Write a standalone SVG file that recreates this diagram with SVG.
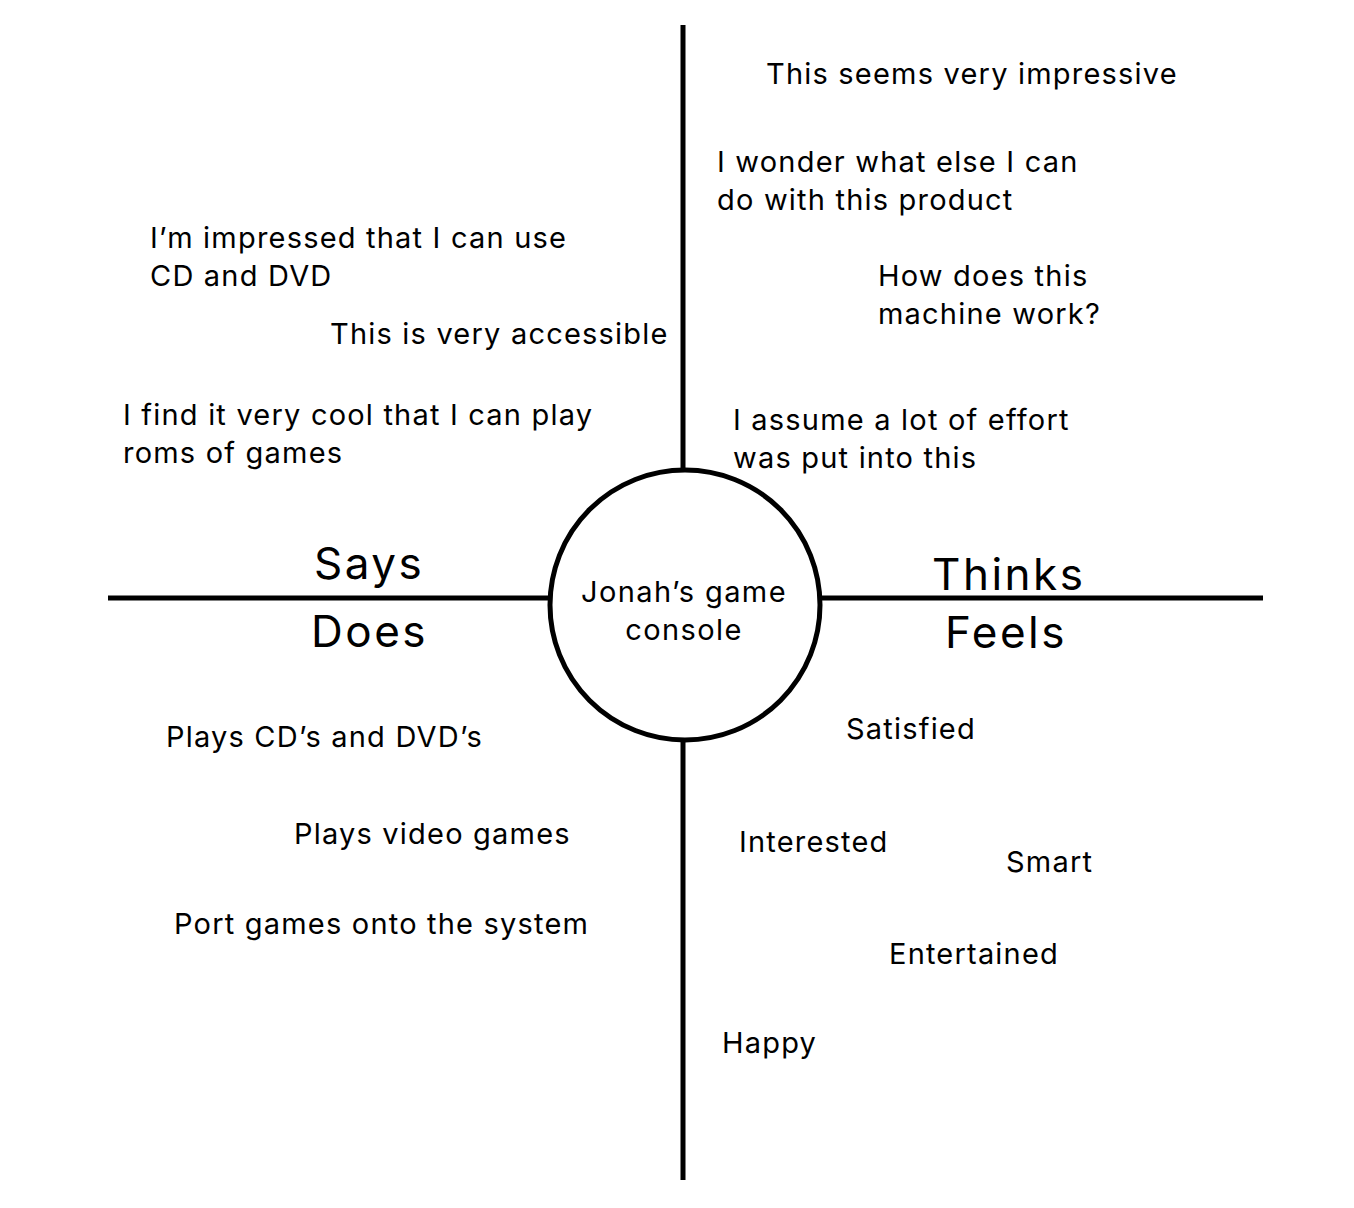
<svg xmlns="http://www.w3.org/2000/svg" width="1354" height="1208" viewBox="0 0 1354 1208">
<style>
.ln{stroke:#000;stroke-width:5;fill:none}
text{font-family:Inter,"Noto Sans","Liberation Sans",sans-serif;fill:#000}
.t{font-size:29px;letter-spacing:1.2px}
.b{font-size:44px;letter-spacing:2.5px}
.c{font-size:29px;letter-spacing:1.4px;text-anchor:middle}
</style>
<rect width="1354" height="1208" fill="#fff"/>
<g id="connectors">
<line class="ln" x1="683" y1="25" x2="683" y2="468"/>
<line class="ln" x1="683" y1="739" x2="683" y2="1180"/>
<line class="ln" x1="108" y1="598" x2="550" y2="598"/>
<line class="ln" x1="820" y1="598" x2="1263" y2="598"/>
</g>
<g id="center">
<circle class="ln" cx="685" cy="605" r="135"/>
<text class="c" x="684" y="602">Jonah’s game</text>
<text class="c" x="684" y="640">console</text>
</g>
<g id="labels">
<text class="b" x="314" y="579">Says</text>
<text class="b" x="311" y="647">Does</text>
<text class="b" x="932" y="590">Thinks</text>
<text class="b" x="945" y="648">Feels</text>
</g>
<g id="thinks">
<text class="t" x="766" y="84">This seems very impressive</text>
<text class="t" x="717" y="172">I wonder what else I can</text>
<text class="t" x="717" y="210">do with this product</text>
<text class="t" x="878" y="286">How does this</text>
<text class="t" x="878" y="324">machine work?</text>
<text class="t" x="733" y="430">I assume a lot of effort</text>
<text class="t" x="733" y="468">was put into this</text>
</g>
<g id="says">
<text class="t" x="150" y="248">I’m impressed that I can use</text>
<text class="t" x="150" y="286">CD and DVD</text>
<text class="t" x="330" y="344">This is very accessible</text>
<text class="t" x="123" y="425">I find it very cool that I can play</text>
<text class="t" x="123" y="463">roms of games</text>
</g>
<g id="does">
<text class="t" x="166" y="747">Plays CD’s and DVD’s</text>
<text class="t" x="294" y="844">Plays video games</text>
<text class="t" x="174" y="934">Port games onto the system</text>
</g>
<g id="feels">
<text class="t" x="846" y="739">Satisfied</text>
<text class="t" x="739" y="852">Interested</text>
<text class="t" x="1006" y="872">Smart</text>
<text class="t" x="889" y="964">Entertained</text>
<text class="t" x="722" y="1053">Happy</text>
</g>
</svg>
